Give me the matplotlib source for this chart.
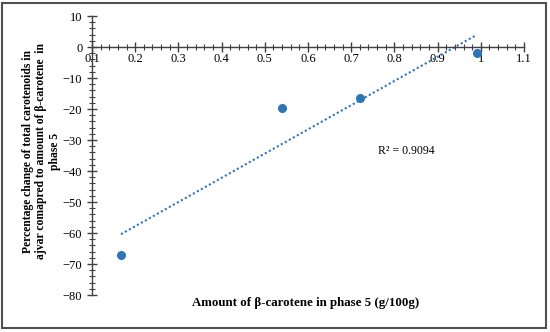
import matplotlib
matplotlib.use("Agg")
import matplotlib.pyplot as plt
import numpy as np
from matplotlib.ticker import MultipleLocator
from matplotlib.patches import Rectangle

# data
beta_carotene = [0.167, 0.539, 0.721, 0.991]
pct_change = [-67.1, -19.6, -16.3, -1.9]
x_ticks = [0.1, 0.2, 0.3, 0.4, 0.5, 0.6, 0.7, 0.8, 0.9, 1, 1.1]
x_tick_labels = ["0.1", "0.2", "0.3", "0.4", "0.5", "0.6", "0.7", "0.8", "0.9", "1", "1.1"]
y_ticks = [10, 0, -10, -20, -30, -40, -50, -60, -70, -80]

plt.rcParams['font.family'] = ['Liberation Serif', 'DejaVu Serif']
blue = '#2E75B6'

fig = plt.figure(figsize=(5.5, 3.32), dpi=100)
ax = fig.add_axes([0.1673, 0.1114, 0.7854, 0.8404])

# points and linear trendline
ax.plot(beta_carotene, pct_change, 'o', color=blue, markersize=5.5, zorder=3)
slope, intercept = np.polyfit(beta_carotene, pct_change, 1)
fit = np.polyval([slope, intercept], beta_carotene)
ss_res = np.sum((np.array(pct_change) - fit) ** 2)
ss_tot = np.sum((np.array(pct_change) - np.mean(pct_change)) ** 2)
r2 = 1 - ss_res / ss_tot
xs = np.array([min(beta_carotene), max(beta_carotene)])
ax.plot(xs, slope * xs + intercept, linestyle=(0, (1, 1.2)), color=blue, linewidth=1.5)
ax.text(0.762, -33.5, "R² = %.4f" % r2, fontsize=8.5, va='center')

ax.set_xlim(0.1, 1.1)
ax.set_ylim(-80, 10)
ax.spines['top'].set_visible(False)
ax.spines['right'].set_visible(False)
ax.spines['bottom'].set_position(('data', 0))
for s in ['left', 'bottom']:
    ax.spines[s].set_color('#404040')
    ax.spines[s].set_linewidth(1)

ax.set_xticks(x_ticks)
ax.set_xticklabels(x_tick_labels)
ax.set_yticks(y_ticks)
ax.xaxis.set_minor_locator(MultipleLocator(0.02))
ax.yaxis.set_minor_locator(MultipleLocator(2))
ax.tick_params(which='major', direction='inout', length=7, width=1, color='#404040', labelsize=9)
ax.tick_params(which='minor', direction='inout', length=5, width=0.8, color='#404040')
ax.tick_params(axis='x', pad=1)

fig.text(0.075, 0.545,
         "Percentage change of total carotenoids in\najvar comapred to amount of β-carotene  in\nphase 5",
         rotation=90, ha='center', va='center', fontsize=8.4, fontweight='bold',
         multialignment='center', linespacing=1.15)
fig.text(0.556, 0.087, "Amount of β-carotene in phase 5 (g/100g)",
         ha='center', va='center', fontsize=9.3, fontweight='bold')

# outer frame
fig.patches.append(Rectangle((0.004, 0.012), 0.988, 0.978, transform=fig.transFigure,
                             fill=False, edgecolor='#505050', linewidth=1.5))

fig.savefig("out.png", dpi=100)
